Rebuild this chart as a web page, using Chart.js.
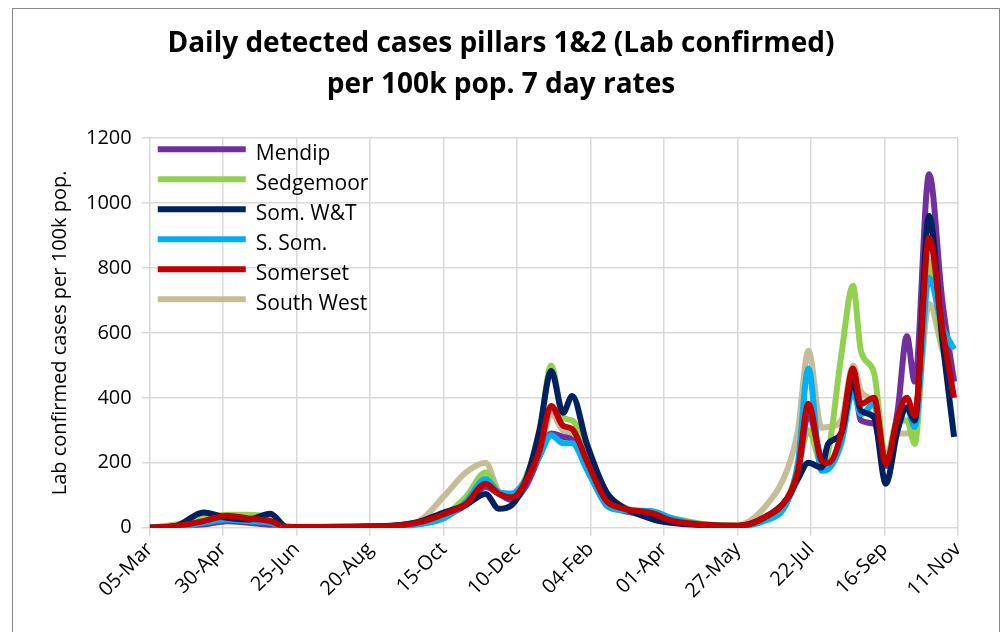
<!DOCTYPE html>
<html>
<head>
<meta charset="utf-8">
<script src="https://cdn.jsdelivr.net/npm/chart.js@4"></script>
<style>
  body { margin: 0; background: #fff; }
  #wrap { position: absolute; left: 12px; top: 8px; width: 988px; height: 640px; border: 1px solid #888; box-sizing: border-box; }
  canvas { position: absolute; left: 0; top: 0; }
</style>
</head>
<body>
<div id="wrap"></div>
<canvas id="myChart" width="1004" height="632"></canvas>
<script>
// days since 05-Mar-2020
const days = [0,20,41,59,75,92,104,130,160,184,205,225,241,256,266,276,287,297,306,315,322,333,348,358,384,397,420,448,468,486,494,502,512,517,527,536,542,552,561,570,577,583,594,604,613];
const tickLabels = ['05-Mar','30-Apr','25-Jun','20-Aug','15-Oct','10-Dec','04-Feb','01-Apr','27-May','22-Jul','16-Sep','11-Nov'];

const mendip     = [0,3,10,20,15,8,2,2,3,5,12,35,70,125,105,85,130,220,290,280,270,190,70,55,35,20,8,4,25,85,170,350,210,190,280,470,330,320,190,360,590,450,1089,700,450];
const sedgemoor  = [0,8,30,40,40,30,3,2,3,6,14,40,95,170,110,95,160,290,500,340,330,240,110,70,40,30,12,6,30,90,180,300,200,230,530,745,545,477,210,330,330,258,820,560,460];
const somWT      = [0,5,47,30,25,43,3,2,3,6,18,48,70,104,58,70,150,300,483,354,406,260,110,70,25,15,8,5,30,90,150,200,185,258,290,452,360,340,135,300,370,330,960,580,280];
const sSom       = [0,3,15,25,20,15,2,2,3,4,10,30,80,150,110,105,150,220,285,260,260,180,70,55,50,30,10,5,20,80,200,490,175,180,260,420,350,380,200,320,370,310,770,620,550];
const somerset   = [0,5,20,37,28,20,2,2,3,5,16,43,73,135,104,93,145,237,375,314,304,206,83,62,43,22,10,6,31,92,175,382,206,200,290,490,381,400,197,340,400,345,893,615,400];
const southWest  = [0,10,25,35,25,15,3,3,4,6,20,100,170,200,110,95,140,230,350,300,290,200,80,55,35,25,10,8,60,180,300,545,308,310,330,500,420,380,220,290,290,300,690,550,450];

const seriesNames = ['Mendip','Sedgemoor','Som. W&T','S. Som.','Somerset','South West'];
const seriesValues = [mendip, sedgemoor, somWT, sSom, somerset, southWest];
const seriesColors = ['#7030a0','#92d050','#002060','#00b0f0','#c00000','#c4bd97'];
const seriesOrder = [4,5,2,3,1,6];

const FONT = "'Open Sans', 'Noto Sans', sans-serif";

const datasets = seriesNames.map((name, i) => ({
  label: name,
  data: days.map((d, j) => ({ x: d, y: seriesValues[i][j] })),
  borderColor: seriesColors[i],
  backgroundColor: seriesColors[i],
  borderWidth: 6,
  pointRadius: 0,
  cubicInterpolationMode: 'monotone',
  order: seriesOrder[i]
}));

// legend drawn inside the plot area, stacked vertically
const insideLegend = {
  id: 'insideLegend',
  afterDraw(chart) {
    const ctx = chart.ctx;
    const a = chart.chartArea;
    ctx.save();
    ctx.font = '21px ' + FONT;
    ctx.textBaseline = 'middle';
    chart.data.datasets.forEach((ds, i) => {
      const y = a.top + 16 + i * 30;
      ctx.strokeStyle = ds.borderColor;
      ctx.lineWidth = 6;
      ctx.beginPath();
      ctx.moveTo(a.left + 8, y - 5);
      ctx.lineTo(a.left + 96, y - 5);
      ctx.stroke();
      ctx.fillStyle = '#000';
      ctx.fillText(ds.label, a.left + 106, y);
    });
    ctx.restore();
  }
};

const ctx = document.getElementById('myChart').getContext('2d');
new Chart(ctx, {
  type: 'line',
  data: { datasets: datasets },
  options: {
    responsive: false,
    animation: false,
    layout: { padding: { left: 44, right: 46, top: 14, bottom: 27 } },
    plugins: {
      legend: { display: false },
      tooltip: { enabled: false },
      title: {
        display: true,
        text: ['Daily detected cases pillars 1&2 (Lab confirmed)', 'per 100k pop. 7 day rates'],
        color: '#000',
        font: { family: FONT, size: 28, weight: 'bold', lineHeight: 1.45 },
        padding: { top: 10, bottom: 33 }
      }
    },
    scales: {
      x: {
        type: 'linear',
        min: 0,
        max: 616,
        afterBuildTicks: axis => { axis.ticks = tickLabels.map((t, i) => ({ value: i * 56 })); },
        ticks: {
          callback: (v) => tickLabels[Math.round(v / 56)],
          maxRotation: 45,
          minRotation: 45,
          color: '#000',
          font: { family: FONT, size: 20 },
          padding: 2
        },
        grid: { color: '#d9d9d9', lineWidth: 1.5 },
        border: { display: false }
      },
      y: {
        min: 0,
        max: 1200,
        ticks: { stepSize: 200, color: '#000', font: { family: FONT, size: 20 }, padding: 10, callback: v => String(v) },
        grid: { color: '#d9d9d9', lineWidth: 1.5 },
        border: { display: false },
        title: {
          display: true,
          text: 'Lab confirmed cases per 100k pop.',
          color: '#000',
          font: { family: FONT, size: 20 }
        }
      }
    }
  },
  plugins: [insideLegend]
});
</script>
</body>
</html>
